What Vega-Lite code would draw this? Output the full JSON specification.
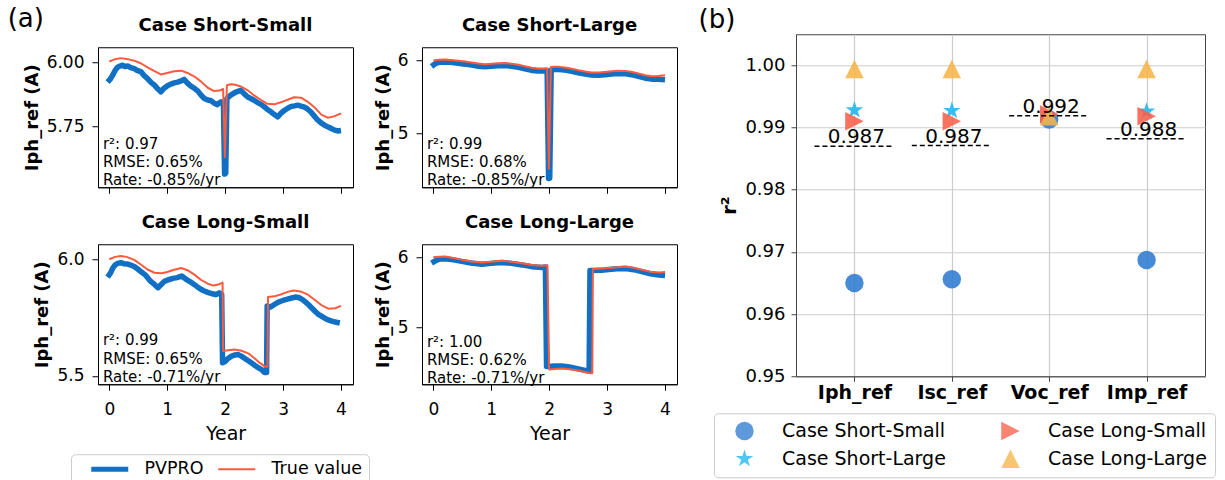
{
  "$schema": "https://vega.github.io/schema/vega-lite/v6.json",
  "background": "white",
  "padding": {"left": 7, "top": 5, "right": 5, "bottom": -4},
  "config": {
    "font": "DejaVu Sans",
    "view": {"stroke": "black", "strokeWidth": 1},
    "axis": {"labelFont": "DejaVu Sans", "labelFontSize": 17, "labelColor": "black", "titleColor": "black", "titleFont": "DejaVu Sans", "titleFontSize": 18, "titleFontWeight": "bold", "tickColor": "black", "domainColor": "black", "tickSize": 6, "labelPadding": 8, "grid": false, "titlePadding": 5},
    "title": {"font": "DejaVu Sans", "fontSize": 18, "fontWeight": "bold", "color": "black", "baseline": "alphabetic", "offset": 12},
    "legend": {"labelFont": "DejaVu Sans", "labelColor": "black"}
  },
  "resolve": {"scale": {"color": "independent", "x": "independent", "y": "independent", "shape": "independent"}},
  "spacing": 20,
  "center": true,
  "datasets": {
    "notes": [
      {"panel": "SS", "text": "r²: 0.97\nRMSE: 0.65%\nRate: -0.85%/yr"},
      {"panel": "SL", "text": "r²: 0.99\nRMSE: 0.68%\nRate: -0.85%/yr"},
      {"panel": "LS", "text": "r²: 0.99\nRMSE: 0.65%\nRate: -0.71%/yr"},
      {"panel": "LL", "text": "r²: 1.00\nRMSE: 0.62%\nRate: -0.71%/yr"}
    ],
    "r2": [
      {"param": "Iph_ref", "case": "Case Short-Small", "r2": 0.9650},
      {"param": "Isc_ref", "case": "Case Short-Small", "r2": 0.9656},
      {"param": "Voc_ref", "case": "Case Short-Small", "r2": 0.9913},
      {"param": "Imp_ref", "case": "Case Short-Small", "r2": 0.9687},
      {"param": "Iph_ref", "case": "Case Short-Large", "r2": 0.9928},
      {"param": "Isc_ref", "case": "Case Short-Large", "r2": 0.9927},
      {"param": "Voc_ref", "case": "Case Short-Large", "r2": 0.9918},
      {"param": "Imp_ref", "case": "Case Short-Large", "r2": 0.9926},
      {"param": "Iph_ref", "case": "Case Long-Small", "r2": 0.9910},
      {"param": "Isc_ref", "case": "Case Long-Small", "r2": 0.9910},
      {"param": "Voc_ref", "case": "Case Long-Small", "r2": 0.9921},
      {"param": "Imp_ref", "case": "Case Long-Small", "r2": 0.9918},
      {"param": "Iph_ref", "case": "Case Long-Large", "r2": 0.9994},
      {"param": "Isc_ref", "case": "Case Long-Large", "r2": 0.9994},
      {"param": "Voc_ref", "case": "Case Long-Large", "r2": 0.9918},
      {"param": "Imp_ref", "case": "Case Long-Large", "r2": 0.9994}
    ],
    "means": [
      {"param": "Iph_ref", "r2": 0.9870, "label": "0.987"},
      {"param": "Isc_ref", "r2": 0.9871, "label": "0.987"},
      {"param": "Voc_ref", "r2": 0.9919, "label": "0.992"},
      {"param": "Imp_ref", "r2": 0.9882, "label": "0.988"}
    ],
    "lines": [
      {"panel": "SS", "series": "PVPRO", "year": -0.03, "value": 5.922},
      {"panel": "SS", "series": "PVPRO", "year": 0.02, "value": 5.935},
      {"panel": "SS", "series": "PVPRO", "year": 0.06, "value": 5.950},
      {"panel": "SS", "series": "PVPRO", "year": 0.10, "value": 5.968},
      {"panel": "SS", "series": "PVPRO", "year": 0.14, "value": 5.980},
      {"panel": "SS", "series": "PVPRO", "year": 0.18, "value": 5.985},
      {"panel": "SS", "series": "PVPRO", "year": 0.23, "value": 5.988},
      {"panel": "SS", "series": "PVPRO", "year": 0.27, "value": 5.983},
      {"panel": "SS", "series": "PVPRO", "year": 0.32, "value": 5.985},
      {"panel": "SS", "series": "PVPRO", "year": 0.37, "value": 5.979},
      {"panel": "SS", "series": "PVPRO", "year": 0.43, "value": 5.975},
      {"panel": "SS", "series": "PVPRO", "year": 0.48, "value": 5.968},
      {"panel": "SS", "series": "PVPRO", "year": 0.55, "value": 5.962},
      {"panel": "SS", "series": "PVPRO", "year": 0.60, "value": 5.948},
      {"panel": "SS", "series": "PVPRO", "year": 0.66, "value": 5.936},
      {"panel": "SS", "series": "PVPRO", "year": 0.72, "value": 5.921},
      {"panel": "SS", "series": "PVPRO", "year": 0.78, "value": 5.910},
      {"panel": "SS", "series": "PVPRO", "year": 0.84, "value": 5.895},
      {"panel": "SS", "series": "PVPRO", "year": 0.89, "value": 5.884},
      {"panel": "SS", "series": "PVPRO", "year": 0.94, "value": 5.897},
      {"panel": "SS", "series": "PVPRO", "year": 1.01, "value": 5.909},
      {"panel": "SS", "series": "PVPRO", "year": 1.06, "value": 5.914},
      {"panel": "SS", "series": "PVPRO", "year": 1.12, "value": 5.919},
      {"panel": "SS", "series": "PVPRO", "year": 1.18, "value": 5.922},
      {"panel": "SS", "series": "PVPRO", "year": 1.24, "value": 5.927},
      {"panel": "SS", "series": "PVPRO", "year": 1.29, "value": 5.933},
      {"panel": "SS", "series": "PVPRO", "year": 1.35, "value": 5.918},
      {"panel": "SS", "series": "PVPRO", "year": 1.41, "value": 5.906},
      {"panel": "SS", "series": "PVPRO", "year": 1.47, "value": 5.898},
      {"panel": "SS", "series": "PVPRO", "year": 1.53, "value": 5.887},
      {"panel": "SS", "series": "PVPRO", "year": 1.58, "value": 5.872},
      {"panel": "SS", "series": "PVPRO", "year": 1.64, "value": 5.858},
      {"panel": "SS", "series": "PVPRO", "year": 1.70, "value": 5.852},
      {"panel": "SS", "series": "PVPRO", "year": 1.76, "value": 5.849},
      {"panel": "SS", "series": "PVPRO", "year": 1.81, "value": 5.840},
      {"panel": "SS", "series": "PVPRO", "year": 1.86, "value": 5.834},
      {"panel": "SS", "series": "PVPRO", "year": 1.93, "value": 5.845},
      {"panel": "SS", "series": "PVPRO", "year": 1.97, "value": 5.840},
      {"panel": "SS", "series": "PVPRO", "year": 1.99, "value": 5.562},
      {"panel": "SS", "series": "PVPRO", "year": 2.01, "value": 5.565},
      {"panel": "SS", "series": "PVPRO", "year": 2.03, "value": 5.858},
      {"panel": "SS", "series": "PVPRO", "year": 2.09, "value": 5.870},
      {"panel": "SS", "series": "PVPRO", "year": 2.16, "value": 5.880},
      {"panel": "SS", "series": "PVPRO", "year": 2.22, "value": 5.886},
      {"panel": "SS", "series": "PVPRO", "year": 2.27, "value": 5.890},
      {"panel": "SS", "series": "PVPRO", "year": 2.33, "value": 5.876},
      {"panel": "SS", "series": "PVPRO", "year": 2.39, "value": 5.864},
      {"panel": "SS", "series": "PVPRO", "year": 2.45, "value": 5.857},
      {"panel": "SS", "series": "PVPRO", "year": 2.50, "value": 5.851},
      {"panel": "SS", "series": "PVPRO", "year": 2.56, "value": 5.842},
      {"panel": "SS", "series": "PVPRO", "year": 2.62, "value": 5.835},
      {"panel": "SS", "series": "PVPRO", "year": 2.68, "value": 5.825},
      {"panel": "SS", "series": "PVPRO", "year": 2.73, "value": 5.815},
      {"panel": "SS", "series": "PVPRO", "year": 2.79, "value": 5.806},
      {"panel": "SS", "series": "PVPRO", "year": 2.85, "value": 5.795},
      {"panel": "SS", "series": "PVPRO", "year": 2.91, "value": 5.786},
      {"panel": "SS", "series": "PVPRO", "year": 2.96, "value": 5.800},
      {"panel": "SS", "series": "PVPRO", "year": 3.02, "value": 5.811},
      {"panel": "SS", "series": "PVPRO", "year": 3.08, "value": 5.820},
      {"panel": "SS", "series": "PVPRO", "year": 3.14, "value": 5.827},
      {"panel": "SS", "series": "PVPRO", "year": 3.20, "value": 5.829},
      {"panel": "SS", "series": "PVPRO", "year": 3.25, "value": 5.832},
      {"panel": "SS", "series": "PVPRO", "year": 3.31, "value": 5.828},
      {"panel": "SS", "series": "PVPRO", "year": 3.37, "value": 5.824},
      {"panel": "SS", "series": "PVPRO", "year": 3.42, "value": 5.817},
      {"panel": "SS", "series": "PVPRO", "year": 3.48, "value": 5.805},
      {"panel": "SS", "series": "PVPRO", "year": 3.54, "value": 5.789},
      {"panel": "SS", "series": "PVPRO", "year": 3.60, "value": 5.773},
      {"panel": "SS", "series": "PVPRO", "year": 3.66, "value": 5.762},
      {"panel": "SS", "series": "PVPRO", "year": 3.71, "value": 5.754},
      {"panel": "SS", "series": "PVPRO", "year": 3.77, "value": 5.747},
      {"panel": "SS", "series": "PVPRO", "year": 3.83, "value": 5.741},
      {"panel": "SS", "series": "PVPRO", "year": 3.88, "value": 5.735},
      {"panel": "SS", "series": "PVPRO", "year": 3.94, "value": 5.731},
      {"panel": "SS", "series": "PVPRO", "year": 4.00, "value": 5.733},
      {"panel": "SS", "series": "True value", "year": 0.00, "value": 6.003},
      {"panel": "SS", "series": "True value", "year": 0.10, "value": 6.012},
      {"panel": "SS", "series": "True value", "year": 0.20, "value": 6.016},
      {"panel": "SS", "series": "True value", "year": 0.30, "value": 6.013},
      {"panel": "SS", "series": "True value", "year": 0.43, "value": 6.006},
      {"panel": "SS", "series": "True value", "year": 0.55, "value": 5.995},
      {"panel": "SS", "series": "True value", "year": 0.66, "value": 5.980},
      {"panel": "SS", "series": "True value", "year": 0.78, "value": 5.965},
      {"panel": "SS", "series": "True value", "year": 0.89, "value": 5.952},
      {"panel": "SS", "series": "True value", "year": 1.00, "value": 5.958},
      {"panel": "SS", "series": "True value", "year": 1.12, "value": 5.965},
      {"panel": "SS", "series": "True value", "year": 1.24, "value": 5.967},
      {"panel": "SS", "series": "True value", "year": 1.35, "value": 5.958},
      {"panel": "SS", "series": "True value", "year": 1.47, "value": 5.944},
      {"panel": "SS", "series": "True value", "year": 1.58, "value": 5.925},
      {"panel": "SS", "series": "True value", "year": 1.70, "value": 5.900},
      {"panel": "SS", "series": "True value", "year": 1.81, "value": 5.887},
      {"panel": "SS", "series": "True value", "year": 1.90, "value": 5.889},
      {"panel": "SS", "series": "True value", "year": 1.965, "value": 5.895},
      {"panel": "SS", "series": "True value", "year": 1.995, "value": 5.629},
      {"panel": "SS", "series": "True value", "year": 2.03, "value": 5.910},
      {"panel": "SS", "series": "True value", "year": 2.10, "value": 5.914},
      {"panel": "SS", "series": "True value", "year": 2.16, "value": 5.913},
      {"panel": "SS", "series": "True value", "year": 2.27, "value": 5.905},
      {"panel": "SS", "series": "True value", "year": 2.39, "value": 5.890},
      {"panel": "SS", "series": "True value", "year": 2.50, "value": 5.870},
      {"panel": "SS", "series": "True value", "year": 2.62, "value": 5.852},
      {"panel": "SS", "series": "True value", "year": 2.73, "value": 5.837},
      {"panel": "SS", "series": "True value", "year": 2.85, "value": 5.835},
      {"panel": "SS", "series": "True value", "year": 2.96, "value": 5.843},
      {"panel": "SS", "series": "True value", "year": 3.08, "value": 5.853},
      {"panel": "SS", "series": "True value", "year": 3.19, "value": 5.863},
      {"panel": "SS", "series": "True value", "year": 3.31, "value": 5.861},
      {"panel": "SS", "series": "True value", "year": 3.42, "value": 5.846},
      {"panel": "SS", "series": "True value", "year": 3.54, "value": 5.824},
      {"panel": "SS", "series": "True value", "year": 3.66, "value": 5.795},
      {"panel": "SS", "series": "True value", "year": 3.77, "value": 5.783},
      {"panel": "SS", "series": "True value", "year": 3.88, "value": 5.788},
      {"panel": "SS", "series": "True value", "year": 4.00, "value": 5.800},

      {"panel": "SL", "series": "PVPRO", "year": -0.03, "value": 5.918},
      {"panel": "SL", "series": "PVPRO", "year": 0.03, "value": 5.955},
      {"panel": "SL", "series": "PVPRO", "year": 0.10, "value": 5.975},
      {"panel": "SL", "series": "PVPRO", "year": 0.20, "value": 5.980},
      {"panel": "SL", "series": "PVPRO", "year": 0.30, "value": 5.975},
      {"panel": "SL", "series": "PVPRO", "year": 0.43, "value": 5.962},
      {"panel": "SL", "series": "PVPRO", "year": 0.55, "value": 5.950},
      {"panel": "SL", "series": "PVPRO", "year": 0.66, "value": 5.937},
      {"panel": "SL", "series": "PVPRO", "year": 0.78, "value": 5.922},
      {"panel": "SL", "series": "PVPRO", "year": 0.89, "value": 5.915},
      {"panel": "SL", "series": "PVPRO", "year": 1.00, "value": 5.920},
      {"panel": "SL", "series": "PVPRO", "year": 1.12, "value": 5.928},
      {"panel": "SL", "series": "PVPRO", "year": 1.24, "value": 5.930},
      {"panel": "SL", "series": "PVPRO", "year": 1.35, "value": 5.922},
      {"panel": "SL", "series": "PVPRO", "year": 1.47, "value": 5.907},
      {"panel": "SL", "series": "PVPRO", "year": 1.58, "value": 5.886},
      {"panel": "SL", "series": "PVPRO", "year": 1.70, "value": 5.864},
      {"panel": "SL", "series": "PVPRO", "year": 1.81, "value": 5.856},
      {"panel": "SL", "series": "PVPRO", "year": 1.90, "value": 5.857},
      {"panel": "SL", "series": "PVPRO", "year": 1.965, "value": 5.860},
      {"panel": "SL", "series": "PVPRO", "year": 1.99, "value": 4.386},
      {"panel": "SL", "series": "PVPRO", "year": 2.01, "value": 4.390},
      {"panel": "SL", "series": "PVPRO", "year": 2.035, "value": 5.872},
      {"panel": "SL", "series": "PVPRO", "year": 2.10, "value": 5.880},
      {"panel": "SL", "series": "PVPRO", "year": 2.16, "value": 5.878},
      {"panel": "SL", "series": "PVPRO", "year": 2.27, "value": 5.870},
      {"panel": "SL", "series": "PVPRO", "year": 2.39, "value": 5.852},
      {"panel": "SL", "series": "PVPRO", "year": 2.50, "value": 5.833},
      {"panel": "SL", "series": "PVPRO", "year": 2.62, "value": 5.815},
      {"panel": "SL", "series": "PVPRO", "year": 2.73, "value": 5.802},
      {"panel": "SL", "series": "PVPRO", "year": 2.85, "value": 5.798},
      {"panel": "SL", "series": "PVPRO", "year": 2.96, "value": 5.806},
      {"panel": "SL", "series": "PVPRO", "year": 3.08, "value": 5.815},
      {"panel": "SL", "series": "PVPRO", "year": 3.19, "value": 5.822},
      {"panel": "SL", "series": "PVPRO", "year": 3.31, "value": 5.820},
      {"panel": "SL", "series": "PVPRO", "year": 3.42, "value": 5.806},
      {"panel": "SL", "series": "PVPRO", "year": 3.54, "value": 5.784},
      {"panel": "SL", "series": "PVPRO", "year": 3.66, "value": 5.758},
      {"panel": "SL", "series": "PVPRO", "year": 3.77, "value": 5.745},
      {"panel": "SL", "series": "PVPRO", "year": 3.88, "value": 5.745},
      {"panel": "SL", "series": "PVPRO", "year": 4.00, "value": 5.738},
      {"panel": "SL", "series": "True value", "year": 0.00, "value": 6.000},
      {"panel": "SL", "series": "True value", "year": 0.10, "value": 6.010},
      {"panel": "SL", "series": "True value", "year": 0.20, "value": 6.012},
      {"panel": "SL", "series": "True value", "year": 0.30, "value": 6.008},
      {"panel": "SL", "series": "True value", "year": 0.43, "value": 5.998},
      {"panel": "SL", "series": "True value", "year": 0.55, "value": 5.985},
      {"panel": "SL", "series": "True value", "year": 0.66, "value": 5.972},
      {"panel": "SL", "series": "True value", "year": 0.78, "value": 5.958},
      {"panel": "SL", "series": "True value", "year": 0.89, "value": 5.950},
      {"panel": "SL", "series": "True value", "year": 1.00, "value": 5.955},
      {"panel": "SL", "series": "True value", "year": 1.12, "value": 5.963},
      {"panel": "SL", "series": "True value", "year": 1.24, "value": 5.965},
      {"panel": "SL", "series": "True value", "year": 1.35, "value": 5.957},
      {"panel": "SL", "series": "True value", "year": 1.47, "value": 5.942},
      {"panel": "SL", "series": "True value", "year": 1.58, "value": 5.922},
      {"panel": "SL", "series": "True value", "year": 1.70, "value": 5.900},
      {"panel": "SL", "series": "True value", "year": 1.81, "value": 5.890},
      {"panel": "SL", "series": "True value", "year": 1.90, "value": 5.892},
      {"panel": "SL", "series": "True value", "year": 1.965, "value": 5.895},
      {"panel": "SL", "series": "True value", "year": 1.995, "value": 4.520},
      {"panel": "SL", "series": "True value", "year": 2.03, "value": 5.910},
      {"panel": "SL", "series": "True value", "year": 2.10, "value": 5.914},
      {"panel": "SL", "series": "True value", "year": 2.16, "value": 5.913},
      {"panel": "SL", "series": "True value", "year": 2.27, "value": 5.905},
      {"panel": "SL", "series": "True value", "year": 2.39, "value": 5.888},
      {"panel": "SL", "series": "True value", "year": 2.50, "value": 5.868},
      {"panel": "SL", "series": "True value", "year": 2.62, "value": 5.850},
      {"panel": "SL", "series": "True value", "year": 2.73, "value": 5.837},
      {"panel": "SL", "series": "True value", "year": 2.85, "value": 5.835},
      {"panel": "SL", "series": "True value", "year": 2.96, "value": 5.843},
      {"panel": "SL", "series": "True value", "year": 3.08, "value": 5.852},
      {"panel": "SL", "series": "True value", "year": 3.19, "value": 5.860},
      {"panel": "SL", "series": "True value", "year": 3.31, "value": 5.858},
      {"panel": "SL", "series": "True value", "year": 3.42, "value": 5.845},
      {"panel": "SL", "series": "True value", "year": 3.54, "value": 5.823},
      {"panel": "SL", "series": "True value", "year": 3.66, "value": 5.797},
      {"panel": "SL", "series": "True value", "year": 3.77, "value": 5.784},
      {"panel": "SL", "series": "True value", "year": 3.88, "value": 5.788},
      {"panel": "SL", "series": "True value", "year": 4.00, "value": 5.798},

      {"panel": "LS", "series": "PVPRO", "year": -0.03, "value": 5.923},
      {"panel": "LS", "series": "PVPRO", "year": 0.02, "value": 5.940},
      {"panel": "LS", "series": "PVPRO", "year": 0.06, "value": 5.962},
      {"panel": "LS", "series": "PVPRO", "year": 0.10, "value": 5.975},
      {"panel": "LS", "series": "PVPRO", "year": 0.14, "value": 5.982},
      {"panel": "LS", "series": "PVPRO", "year": 0.20, "value": 5.985},
      {"panel": "LS", "series": "PVPRO", "year": 0.26, "value": 5.980},
      {"panel": "LS", "series": "PVPRO", "year": 0.32, "value": 5.979},
      {"panel": "LS", "series": "PVPRO", "year": 0.37, "value": 5.975},
      {"panel": "LS", "series": "PVPRO", "year": 0.43, "value": 5.969},
      {"panel": "LS", "series": "PVPRO", "year": 0.49, "value": 5.958},
      {"panel": "LS", "series": "PVPRO", "year": 0.55, "value": 5.946},
      {"panel": "LS", "series": "PVPRO", "year": 0.62, "value": 5.933},
      {"panel": "LS", "series": "PVPRO", "year": 0.68, "value": 5.915},
      {"panel": "LS", "series": "PVPRO", "year": 0.72, "value": 5.904},
      {"panel": "LS", "series": "PVPRO", "year": 0.78, "value": 5.892},
      {"panel": "LS", "series": "PVPRO", "year": 0.84, "value": 5.878},
      {"panel": "LS", "series": "PVPRO", "year": 0.90, "value": 5.893},
      {"panel": "LS", "series": "PVPRO", "year": 0.95, "value": 5.905},
      {"panel": "LS", "series": "PVPRO", "year": 1.02, "value": 5.912},
      {"panel": "LS", "series": "PVPRO", "year": 1.10, "value": 5.918},
      {"panel": "LS", "series": "PVPRO", "year": 1.17, "value": 5.921},
      {"panel": "LS", "series": "PVPRO", "year": 1.25, "value": 5.928},
      {"panel": "LS", "series": "PVPRO", "year": 1.32, "value": 5.915},
      {"panel": "LS", "series": "PVPRO", "year": 1.40, "value": 5.903},
      {"panel": "LS", "series": "PVPRO", "year": 1.47, "value": 5.891},
      {"panel": "LS", "series": "PVPRO", "year": 1.55, "value": 5.876},
      {"panel": "LS", "series": "PVPRO", "year": 1.62, "value": 5.866},
      {"panel": "LS", "series": "PVPRO", "year": 1.70, "value": 5.858},
      {"panel": "LS", "series": "PVPRO", "year": 1.78, "value": 5.852},
      {"panel": "LS", "series": "PVPRO", "year": 1.84, "value": 5.848},
      {"panel": "LS", "series": "PVPRO", "year": 1.90, "value": 5.856},
      {"panel": "LS", "series": "PVPRO", "year": 1.94, "value": 5.850},
      {"panel": "LS", "series": "PVPRO", "year": 1.955, "value": 5.557},
      {"panel": "LS", "series": "PVPRO", "year": 2.00, "value": 5.562},
      {"panel": "LS", "series": "PVPRO", "year": 2.05, "value": 5.575},
      {"panel": "LS", "series": "PVPRO", "year": 2.11, "value": 5.585},
      {"panel": "LS", "series": "PVPRO", "year": 2.17, "value": 5.590},
      {"panel": "LS", "series": "PVPRO", "year": 2.22, "value": 5.592},
      {"panel": "LS", "series": "PVPRO", "year": 2.28, "value": 5.585},
      {"panel": "LS", "series": "PVPRO", "year": 2.34, "value": 5.575},
      {"panel": "LS", "series": "PVPRO", "year": 2.40, "value": 5.565},
      {"panel": "LS", "series": "PVPRO", "year": 2.46, "value": 5.555},
      {"panel": "LS", "series": "PVPRO", "year": 2.52, "value": 5.544},
      {"panel": "LS", "series": "PVPRO", "year": 2.57, "value": 5.536},
      {"panel": "LS", "series": "PVPRO", "year": 2.63, "value": 5.527},
      {"panel": "LS", "series": "PVPRO", "year": 2.68, "value": 5.515},
      {"panel": "LS", "series": "PVPRO", "year": 2.715, "value": 5.515},
      {"panel": "LS", "series": "PVPRO", "year": 2.725, "value": 5.800},
      {"panel": "LS", "series": "PVPRO", "year": 2.78, "value": 5.795},
      {"panel": "LS", "series": "PVPRO", "year": 2.85, "value": 5.806},
      {"panel": "LS", "series": "PVPRO", "year": 2.91, "value": 5.815},
      {"panel": "LS", "series": "PVPRO", "year": 2.97, "value": 5.821},
      {"panel": "LS", "series": "PVPRO", "year": 3.03, "value": 5.826},
      {"panel": "LS", "series": "PVPRO", "year": 3.09, "value": 5.830},
      {"panel": "LS", "series": "PVPRO", "year": 3.15, "value": 5.834},
      {"panel": "LS", "series": "PVPRO", "year": 3.21, "value": 5.838},
      {"panel": "LS", "series": "PVPRO", "year": 3.27, "value": 5.836},
      {"panel": "LS", "series": "PVPRO", "year": 3.33, "value": 5.828},
      {"panel": "LS", "series": "PVPRO", "year": 3.39, "value": 5.816},
      {"panel": "LS", "series": "PVPRO", "year": 3.44, "value": 5.805},
      {"panel": "LS", "series": "PVPRO", "year": 3.50, "value": 5.790},
      {"panel": "LS", "series": "PVPRO", "year": 3.56, "value": 5.775},
      {"panel": "LS", "series": "PVPRO", "year": 3.61, "value": 5.764},
      {"panel": "LS", "series": "PVPRO", "year": 3.67, "value": 5.755},
      {"panel": "LS", "series": "PVPRO", "year": 3.72, "value": 5.747},
      {"panel": "LS", "series": "PVPRO", "year": 3.78, "value": 5.740},
      {"panel": "LS", "series": "PVPRO", "year": 3.84, "value": 5.735},
      {"panel": "LS", "series": "PVPRO", "year": 3.90, "value": 5.731},
      {"panel": "LS", "series": "PVPRO", "year": 3.98, "value": 5.727},
      {"panel": "LS", "series": "True value", "year": 0.00, "value": 6.000},
      {"panel": "LS", "series": "True value", "year": 0.10, "value": 6.010},
      {"panel": "LS", "series": "True value", "year": 0.20, "value": 6.014},
      {"panel": "LS", "series": "True value", "year": 0.30, "value": 6.010},
      {"panel": "LS", "series": "True value", "year": 0.43, "value": 5.997},
      {"panel": "LS", "series": "True value", "year": 0.55, "value": 5.976},
      {"panel": "LS", "series": "True value", "year": 0.66, "value": 5.956},
      {"panel": "LS", "series": "True value", "year": 0.78, "value": 5.942},
      {"panel": "LS", "series": "True value", "year": 0.90, "value": 5.940},
      {"panel": "LS", "series": "True value", "year": 1.00, "value": 5.945},
      {"panel": "LS", "series": "True value", "year": 1.12, "value": 5.955},
      {"panel": "LS", "series": "True value", "year": 1.24, "value": 5.962},
      {"panel": "LS", "series": "True value", "year": 1.35, "value": 5.953},
      {"panel": "LS", "series": "True value", "year": 1.47, "value": 5.934},
      {"panel": "LS", "series": "True value", "year": 1.58, "value": 5.912},
      {"panel": "LS", "series": "True value", "year": 1.70, "value": 5.895},
      {"panel": "LS", "series": "True value", "year": 1.80, "value": 5.887},
      {"panel": "LS", "series": "True value", "year": 1.90, "value": 5.893},
      {"panel": "LS", "series": "True value", "year": 1.955, "value": 5.900},
      {"panel": "LS", "series": "True value", "year": 1.965, "value": 5.607},
      {"panel": "LS", "series": "True value", "year": 2.05, "value": 5.610},
      {"panel": "LS", "series": "True value", "year": 2.16, "value": 5.613},
      {"panel": "LS", "series": "True value", "year": 2.28, "value": 5.608},
      {"panel": "LS", "series": "True value", "year": 2.40, "value": 5.597},
      {"panel": "LS", "series": "True value", "year": 2.51, "value": 5.575},
      {"panel": "LS", "series": "True value", "year": 2.60, "value": 5.556},
      {"panel": "LS", "series": "True value", "year": 2.69, "value": 5.540},
      {"panel": "LS", "series": "True value", "year": 2.73, "value": 5.540},
      {"panel": "LS", "series": "True value", "year": 2.74, "value": 5.838},
      {"panel": "LS", "series": "True value", "year": 2.85, "value": 5.841},
      {"panel": "LS", "series": "True value", "year": 2.97, "value": 5.850},
      {"panel": "LS", "series": "True value", "year": 3.08, "value": 5.860},
      {"panel": "LS", "series": "True value", "year": 3.18, "value": 5.866},
      {"panel": "LS", "series": "True value", "year": 3.30, "value": 5.862},
      {"panel": "LS", "series": "True value", "year": 3.43, "value": 5.848},
      {"panel": "LS", "series": "True value", "year": 3.55, "value": 5.825},
      {"panel": "LS", "series": "True value", "year": 3.67, "value": 5.802},
      {"panel": "LS", "series": "True value", "year": 3.78, "value": 5.788},
      {"panel": "LS", "series": "True value", "year": 3.90, "value": 5.790},
      {"panel": "LS", "series": "True value", "year": 4.00, "value": 5.800},

      {"panel": "LL", "series": "PVPRO", "year": -0.03, "value": 5.915},
      {"panel": "LL", "series": "PVPRO", "year": 0.05, "value": 5.955},
      {"panel": "LL", "series": "PVPRO", "year": 0.12, "value": 5.975},
      {"panel": "LL", "series": "PVPRO", "year": 0.20, "value": 5.978},
      {"panel": "LL", "series": "PVPRO", "year": 0.35, "value": 5.962},
      {"panel": "LL", "series": "PVPRO", "year": 0.49, "value": 5.940},
      {"panel": "LL", "series": "PVPRO", "year": 0.65, "value": 5.918},
      {"panel": "LL", "series": "PVPRO", "year": 0.84, "value": 5.900},
      {"panel": "LL", "series": "PVPRO", "year": 1.00, "value": 5.912},
      {"panel": "LL", "series": "PVPRO", "year": 1.18, "value": 5.925},
      {"panel": "LL", "series": "PVPRO", "year": 1.35, "value": 5.912},
      {"panel": "LL", "series": "PVPRO", "year": 1.53, "value": 5.890},
      {"panel": "LL", "series": "PVPRO", "year": 1.70, "value": 5.865},
      {"panel": "LL", "series": "PVPRO", "year": 1.87, "value": 5.852},
      {"panel": "LL", "series": "PVPRO", "year": 1.935, "value": 5.860},
      {"panel": "LL", "series": "PVPRO", "year": 1.955, "value": 4.440},
      {"panel": "LL", "series": "PVPRO", "year": 2.10, "value": 4.445},
      {"panel": "LL", "series": "PVPRO", "year": 2.22, "value": 4.446},
      {"panel": "LL", "series": "PVPRO", "year": 2.35, "value": 4.432},
      {"panel": "LL", "series": "PVPRO", "year": 2.45, "value": 4.415},
      {"panel": "LL", "series": "PVPRO", "year": 2.58, "value": 4.392},
      {"panel": "LL", "series": "PVPRO", "year": 2.69, "value": 4.372},
      {"panel": "LL", "series": "PVPRO", "year": 2.705, "value": 5.810},
      {"panel": "LL", "series": "PVPRO", "year": 2.90, "value": 5.812},
      {"panel": "LL", "series": "PVPRO", "year": 3.03, "value": 5.825},
      {"panel": "LL", "series": "PVPRO", "year": 3.17, "value": 5.835},
      {"panel": "LL", "series": "PVPRO", "year": 3.32, "value": 5.840},
      {"panel": "LL", "series": "PVPRO", "year": 3.46, "value": 5.822},
      {"panel": "LL", "series": "PVPRO", "year": 3.60, "value": 5.795},
      {"panel": "LL", "series": "PVPRO", "year": 3.75, "value": 5.762},
      {"panel": "LL", "series": "PVPRO", "year": 3.89, "value": 5.745},
      {"panel": "LL", "series": "PVPRO", "year": 4.00, "value": 5.738},
      {"panel": "LL", "series": "True value", "year": 0.00, "value": 6.000},
      {"panel": "LL", "series": "True value", "year": 0.10, "value": 6.008},
      {"panel": "LL", "series": "True value", "year": 0.20, "value": 6.010},
      {"panel": "LL", "series": "True value", "year": 0.35, "value": 5.990},
      {"panel": "LL", "series": "True value", "year": 0.49, "value": 5.962},
      {"panel": "LL", "series": "True value", "year": 0.65, "value": 5.940},
      {"panel": "LL", "series": "True value", "year": 0.84, "value": 5.925},
      {"panel": "LL", "series": "True value", "year": 1.00, "value": 5.935},
      {"panel": "LL", "series": "True value", "year": 1.18, "value": 5.948},
      {"panel": "LL", "series": "True value", "year": 1.35, "value": 5.935},
      {"panel": "LL", "series": "True value", "year": 1.53, "value": 5.913},
      {"panel": "LL", "series": "True value", "year": 1.70, "value": 5.890},
      {"panel": "LL", "series": "True value", "year": 1.87, "value": 5.877},
      {"panel": "LL", "series": "True value", "year": 1.97, "value": 5.886},
      {"panel": "LL", "series": "True value", "year": 2.00, "value": 4.398},
      {"panel": "LL", "series": "True value", "year": 2.10, "value": 4.405},
      {"panel": "LL", "series": "True value", "year": 2.22, "value": 4.410},
      {"panel": "LL", "series": "True value", "year": 2.35, "value": 4.400},
      {"panel": "LL", "series": "True value", "year": 2.45, "value": 4.390},
      {"panel": "LL", "series": "True value", "year": 2.58, "value": 4.368},
      {"panel": "LL", "series": "True value", "year": 2.71, "value": 4.342},
      {"panel": "LL", "series": "True value", "year": 2.745, "value": 4.342},
      {"panel": "LL", "series": "True value", "year": 2.755, "value": 5.830},
      {"panel": "LL", "series": "True value", "year": 2.90, "value": 5.838},
      {"panel": "LL", "series": "True value", "year": 3.03, "value": 5.845},
      {"panel": "LL", "series": "True value", "year": 3.17, "value": 5.858},
      {"panel": "LL", "series": "True value", "year": 3.32, "value": 5.866},
      {"panel": "LL", "series": "True value", "year": 3.46, "value": 5.848},
      {"panel": "LL", "series": "True value", "year": 3.60, "value": 5.820},
      {"panel": "LL", "series": "True value", "year": 3.75, "value": 5.792},
      {"panel": "LL", "series": "True value", "year": 3.89, "value": 5.780},
      {"panel": "LL", "series": "True value", "year": 4.00, "value": 5.790}
    ]
  },
  "hconcat": [
    {
      "concat": [
        {
          "width": 255, "height": 140,
          "title": {"text": "Case Short-Small"},
          "layer": [
            {
              "data": {"name": "lines"},
              "transform": [{"filter": "datum.panel === 'SS'"}],
              "mark": {"type": "line", "clip": true, "strokeJoin": "round"},
              "encoding": {
                "x": {"field": "year", "type": "quantitative", "scale": {"domain": [-0.195, 4.207], "nice": false, "zero": false}, "axis": {"values": [0, 1, 2, 3, 4], "labels": false, "title": null}},
                "y": {"field": "value", "type": "quantitative", "scale": {"domain": [5.5105, 6.0586], "nice": false, "zero": false}, "axis": {"values": [5.75, 6.0], "format": ".2f", "title": "Iph_ref (A)"}},
                "color": {"field": "series", "type": "nominal", "scale": {"domain": ["PVPRO", "True value"], "range": ["#1170c4", "#fa5a3d"]},
                  "legend": {"orient": "none", "legendX": -27, "legendY": 407, "direction": "horizontal", "columns": 2, "title": null, "symbolType": "stroke", "symbolSize": 1369, "symbolStrokeWidth": 2, "clipHeight": 18, "labelFontSize": 17.5, "labelOffset": 26, "symbolOffset": 24, "padding": 6, "columnPadding": 0, "strokeColor": "#cccccc", "cornerRadius": 4, "fillColor": "white", "labelLimit": 0,
                    "encode": {"symbols": {"update": {"strokeWidth": {"signal": "datum.value === 'PVPRO' ? 5 : 2"}}}}}},
                "strokeWidth": {"condition": {"test": "datum.series === 'PVPRO'", "value": 5.5}, "value": 2}
              }
            },
            {
              "data": {"name": "notes"},
              "transform": [{"filter": "datum.panel === 'SS'"}],
              "mark": {"type": "text", "align": "left", "baseline": "alphabetic", "fontSize": 15, "lineHeight": 18.3, "lineBreak": "\n", "color": "black"},
              "encoding": {"x": {"datum": -0.11}, "y": {"datum": 5.6612}, "text": {"field": "text"}}
            }
          ]
        },
        {
          "width": 255, "height": 140,
          "title": {"text": "Case Short-Large"},
          "layer": [
            {
              "data": {"name": "lines"},
              "transform": [{"filter": "datum.panel === 'SL'"}],
              "mark": {"type": "line", "clip": true, "strokeJoin": "round"},
              "encoding": {
                "x": {"field": "year", "type": "quantitative", "scale": {"domain": [-0.195, 4.207], "nice": false, "zero": false}, "axis": {"values": [0, 1, 2, 3, 4], "labels": false, "title": null}},
                "y": {"field": "value", "type": "quantitative", "scale": {"domain": [4.267, 6.181], "nice": false, "zero": false}, "axis": {"values": [5, 6], "format": "d", "title": "Iph_ref (A)"}},
                "color": {"field": "series", "type": "nominal", "scale": {"domain": ["PVPRO", "True value"], "range": ["#1170c4", "#fa5a3d"]}},
                "strokeWidth": {"condition": {"test": "datum.series === 'PVPRO'", "value": 5.5}, "value": 2}
              }
            },
            {
              "data": {"name": "notes"},
              "transform": [{"filter": "datum.panel === 'SL'"}],
              "mark": {"type": "text", "align": "left", "baseline": "alphabetic", "fontSize": 15, "lineHeight": 18.3, "lineBreak": "\n", "color": "black"},
              "encoding": {"x": {"datum": -0.11}, "y": {"datum": 4.793}, "text": {"field": "text"}}
            }
          ]
        },
        {
          "width": 255, "height": 140,
          "title": {"text": "Case Long-Small"},
          "layer": [
            {
              "data": {"name": "lines"},
              "transform": [{"filter": "datum.panel === 'LS'"}],
              "mark": {"type": "line", "clip": true, "strokeJoin": "round"},
              "encoding": {
                "x": {"field": "year", "type": "quantitative", "scale": {"domain": [-0.195, 4.207], "nice": false, "zero": false}, "axis": {"values": [0, 1, 2, 3, 4], "format": "d", "title": "Year", "titleFontWeight": "normal", "titleFontSize": 19, "labelPadding": 11, "titlePadding": 7}},
                "y": {"field": "value", "type": "quantitative", "scale": {"domain": [5.4646, 6.064], "nice": false, "zero": false}, "axis": {"values": [5.5, 6.0], "format": ".1f", "title": "Iph_ref (A)"}},
                "color": {"field": "series", "type": "nominal", "scale": {"domain": ["PVPRO", "True value"], "range": ["#1170c4", "#fa5a3d"]}},
                "strokeWidth": {"condition": {"test": "datum.series === 'PVPRO'", "value": 5.5}, "value": 2}
              }
            },
            {
              "data": {"name": "notes"},
              "transform": [{"filter": "datum.panel === 'LS'"}],
              "mark": {"type": "text", "align": "left", "baseline": "alphabetic", "fontSize": 15, "lineHeight": 18.3, "lineBreak": "\n", "color": "black"},
              "encoding": {"x": {"datum": -0.11}, "y": {"datum": 5.6307}, "text": {"field": "text"}}
            }
          ]
        },
        {
          "width": 255, "height": 140,
          "title": {"text": "Case Long-Large"},
          "layer": [
            {
              "data": {"name": "lines"},
              "transform": [{"filter": "datum.panel === 'LL'"}],
              "mark": {"type": "line", "clip": true, "strokeJoin": "round"},
              "encoding": {
                "x": {"field": "year", "type": "quantitative", "scale": {"domain": [-0.195, 4.207], "nice": false, "zero": false}, "axis": {"values": [0, 1, 2, 3, 4], "format": "d", "title": "Year", "titleFontWeight": "normal", "titleFontSize": 19, "labelPadding": 11, "titlePadding": 7}},
                "y": {"field": "value", "type": "quantitative", "scale": {"domain": [4.186, 6.185], "nice": false, "zero": false}, "axis": {"values": [5, 6], "format": "d", "title": "Iph_ref (A)"}},
                "color": {"field": "series", "type": "nominal", "scale": {"domain": ["PVPRO", "True value"], "range": ["#1170c4", "#fa5a3d"]}},
                "strokeWidth": {"condition": {"test": "datum.series === 'PVPRO'", "value": 5.5}, "value": 2}
              }
            },
            {
              "data": {"name": "notes"},
              "transform": [{"filter": "datum.panel === 'LL'"}],
              "mark": {"type": "text", "align": "left", "baseline": "alphabetic", "fontSize": 15, "lineHeight": 18.3, "lineBreak": "\n", "color": "black"},
              "encoding": {"x": {"datum": -0.11}, "y": {"datum": 4.721}, "text": {"field": "text"}}
            }
          ]
        }
      ],
      "columns": 2,
      "align": "each",
      "bounds": "full",
      "spacing": {"column": 19, "row": 19},
      "title": {"text": "(a)", "anchor": "start", "frame": "bounds", "fontSize": 26, "fontWeight": "normal", "baseline": "alphabetic", "offset": -36, "dx": -15},
      "resolve": {"scale": {"x": "independent", "y": "independent"}}
    },
    {
      "width": 409, "height": 342,
      "view": {"stroke": "#444444"},
      "title": {"text": "(b)", "anchor": "start", "frame": "bounds", "fontSize": 26, "fontWeight": "normal", "baseline": "alphabetic", "offset": -20, "dx": -15},
      "layer": [
        {
          "data": {"name": "r2"},
          "mark": {"type": "point", "filled": true, "size": 340, "opacity": 0.88, "strokeWidth": 0},
          "encoding": {
            "x": {"field": "param", "type": "nominal", "sort": ["Iph_ref", "Isc_ref", "Voc_ref", "Imp_ref"], "scale": {"type": "point", "padding": 0.6, "domain": ["Iph_ref", "Isc_ref", "Voc_ref", "Imp_ref"]},
              "axis": {"title": "\u00a0", "titleFontSize": 10, "titlePadding": 85, "labelAngle": 0, "labelFontWeight": "bold", "labelFontSize": 19, "grid": true, "gridColor": "#cccccc", "gridWidth": 1.2, "tickSize": 5, "labelPadding": 2, "domainColor": "#444444", "tickColor": "#444444"}},
            "y": {"field": "r2", "type": "quantitative", "scale": {"domain": [0.95, 1.005], "nice": false, "zero": false},
              "axis": {"values": [0.95, 0.96, 0.97, 0.98, 0.99, 1.0], "format": ".2f", "title": "r²", "titleFontSize": 20, "labelFontSize": 18, "grid": true, "gridColor": "#cccccc", "gridWidth": 1.2, "tickSize": 5, "labelPadding": 6, "titlePadding": 5, "domainColor": "#444444", "tickColor": "#444444"}},
            "color": {"field": "case", "type": "nominal", "scale": {"domain": ["Case Short-Small", "Case Long-Small", "Case Short-Large", "Case Long-Large"], "range": ["#2e7bd2", "#f9604a", "#1db5ee", "#f6b448"]},
              "legend": {"orient": "none", "legendX": -82, "legendY": 379, "columns": 2, "direction": "horizontal", "title": null, "symbolSize": 340, "labelFontSize": 19, "labelLimit": 0, "padding": 8, "symbolOffset": 13, "labelOffset": 28, "columnPadding": 42, "rowPadding": 8, "strokeColor": "#cccccc", "cornerRadius": 4, "fillColor": "white", "symbolOpacity": 0.9, "symbolStrokeWidth": 0}},
            "shape": {"field": "case", "type": "nominal", "scale": {"domain": ["Case Short-Small", "Case Long-Small", "Case Short-Large", "Case Long-Large"], "range": ["circle", "M1,0L-1,-1L-1,1Z", "M0,-1L0.2245,-0.309L0.951,-0.309L0.363,0.118L0.588,0.809L0,0.382L-0.588,0.809L-0.363,0.118L-0.951,-0.309L-0.2245,-0.309Z", "M0,-1L1,1L-1,1Z"]}}
          }
        },
        {
          "data": {"name": "means"},
          "mark": {"type": "rule", "color": "black", "strokeWidth": 1.6, "strokeDash": [5, 3], "xOffset": -40, "x2Offset": 40},
          "encoding": {
            "x": {"field": "param", "type": "nominal", "sort": ["Iph_ref", "Isc_ref", "Voc_ref", "Imp_ref"]},
            "x2": {"field": "param"},
            "y": {"field": "r2", "type": "quantitative"}
          }
        },
        {
          "data": {"name": "means"},
          "mark": {"type": "text", "fontSize": 20, "baseline": "alphabetic", "align": "center", "dy": -3, "dx": 2, "color": "black"},
          "encoding": {
            "x": {"field": "param", "type": "nominal", "sort": ["Iph_ref", "Isc_ref", "Voc_ref", "Imp_ref"]},
            "y": {"field": "r2", "type": "quantitative"},
            "text": {"field": "label"}
          }
        }
      ]
    }
  ]
}
